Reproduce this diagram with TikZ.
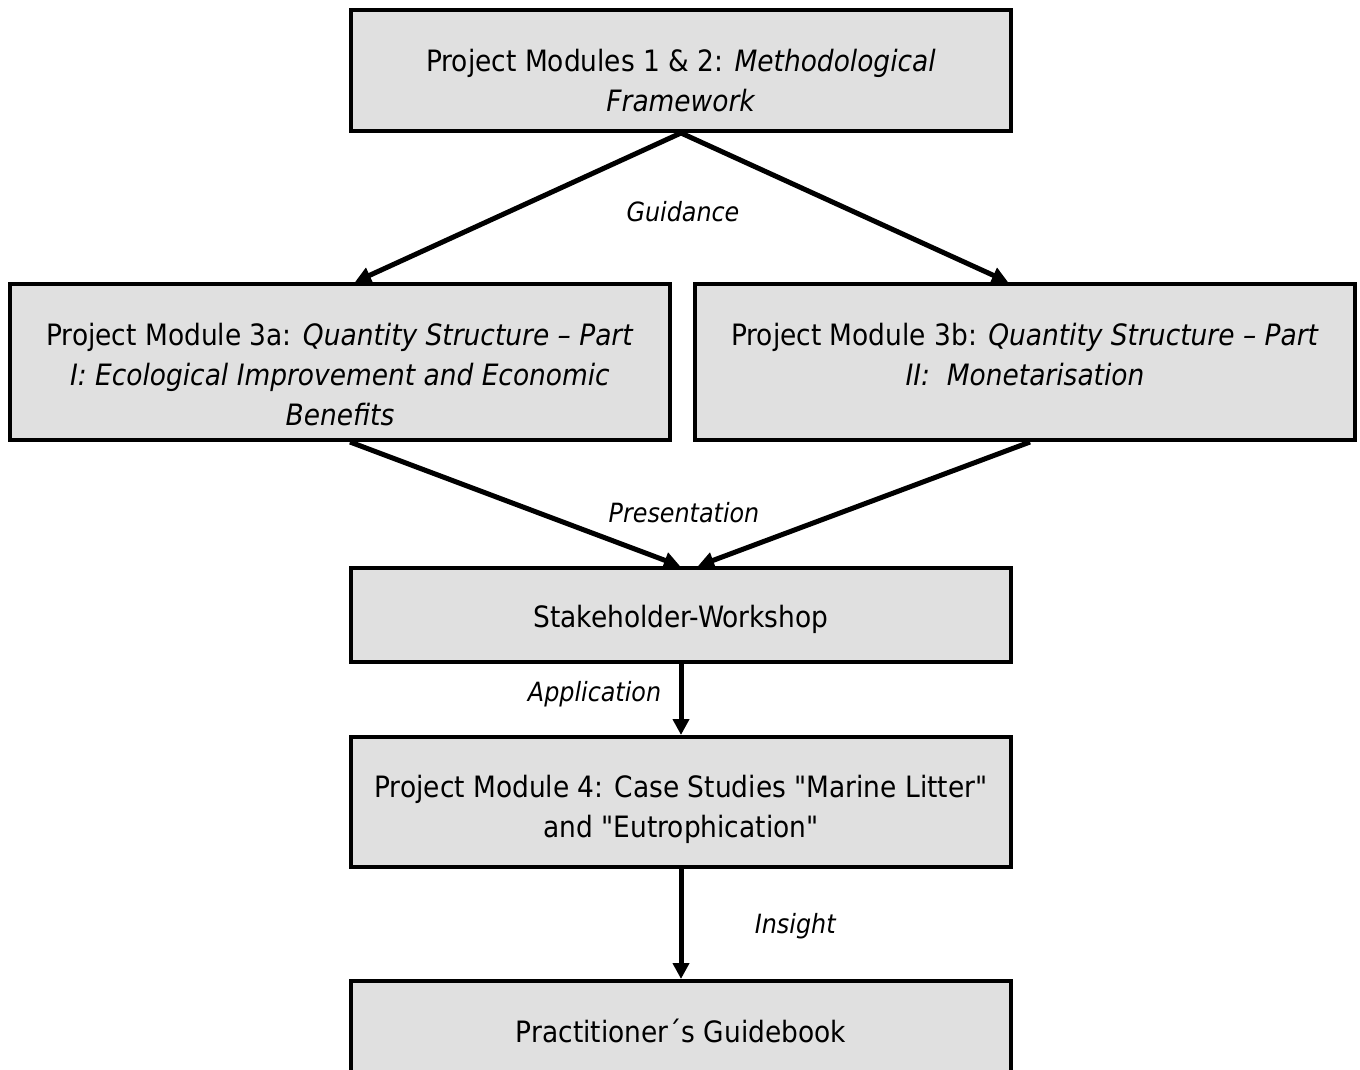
\documentclass[tikz,border=0pt]{standalone}
\usepackage{fontspec}
\setmainfont{DejaVu Sans Condensed}[ItalicFont={DejaVu Sans Condensed Oblique}]
\usetikzlibrary{positioning,arrows.meta}
\definecolor{caja}{HTML}{E0E0E0}
\newcommand{\lift}[1]{\rule{0pt}{#1}}
\newcommand{\sink}[1]{\rule[-#1]{0pt}{#1}}

\begin{document}
\begin{tikzpicture}[x=1pt,y=-1pt,
      box/.style={draw=black,fill=caja,line width=4pt,minimum width=660pt,
                  align=center,inner sep=0pt,font=\fontsize{29.4}{40}\selectfont},
      lbl/.style={font=\fontsize{26.5}{32}\selectfont\itshape},
      fl/.style={-{Triangle[length=16pt,width=16pt]},line width=5pt},
      node distance=71pt]
    \path[use as bounding box,clip] (0,0) rectangle (1360,1070);
    \node[box,minimum height=121pt] (pm12) at (681,70.5)
      {\lift{43pt}Project Modules 1 \& 2: \textit{Methodological}\\\textit{Framework}};
    \node[box,minimum height=156pt] (pm3a) at (340,362)
      {\lift{47pt}Project Module 3a: \textit{Quantity Structure – Part}\\
       \textit{I: Ecological Improvement and Economic}\\\textit{Benefits}};
    \node[box,minimum height=156pt] (pm3b) at (1025,362)
      {Project Module 3b: \textit{Quantity Structure – Part}\\
       \textit{II:\ \ Monetarisation}\sink{16pt}};
    \node[box,minimum height=94pt] (shw) at (681,615) {\lift{32pt}Stakeholder-Workshop};
    \node[box,minimum height=130pt,below=of shw] (pm4)
      {\lift{38pt}Project Module 4: Case Studies \textquotedbl Marine Litter\textquotedbl\\
       and \textquotedbl Eutrophication\textquotedbl};
    \node[box,minimum height=100pt,below=110pt of pm4] (guide) {Practitioner´s Guidebook};
    % labels
    \node[lbl] (guid) at (683,212) {Guidance};
    \node[lbl] (pres) at (684,513) {Presentation};
    \draw[fl] (pm12.south) -- ([xshift=15pt]pm3a.north);
    \draw[fl] (pm12.south) -- ([xshift=-17pt]pm3b.north);
    \draw[fl] ([xshift=10pt]pm3a.south) -- ([xshift=-1pt]shw.north);
    \draw[fl] ([xshift=5pt]pm3b.south) -- ([xshift=17pt]shw.north);
    \draw[fl] (shw) -- node[lbl,left=14pt,yshift=5pt] (appl) {Application} (pm4);
    \draw[fl] (pm4) -- node[lbl,right=68pt,yshift=-2pt] (ins) {Insight} (guide);
\end{tikzpicture}
\end{document}
